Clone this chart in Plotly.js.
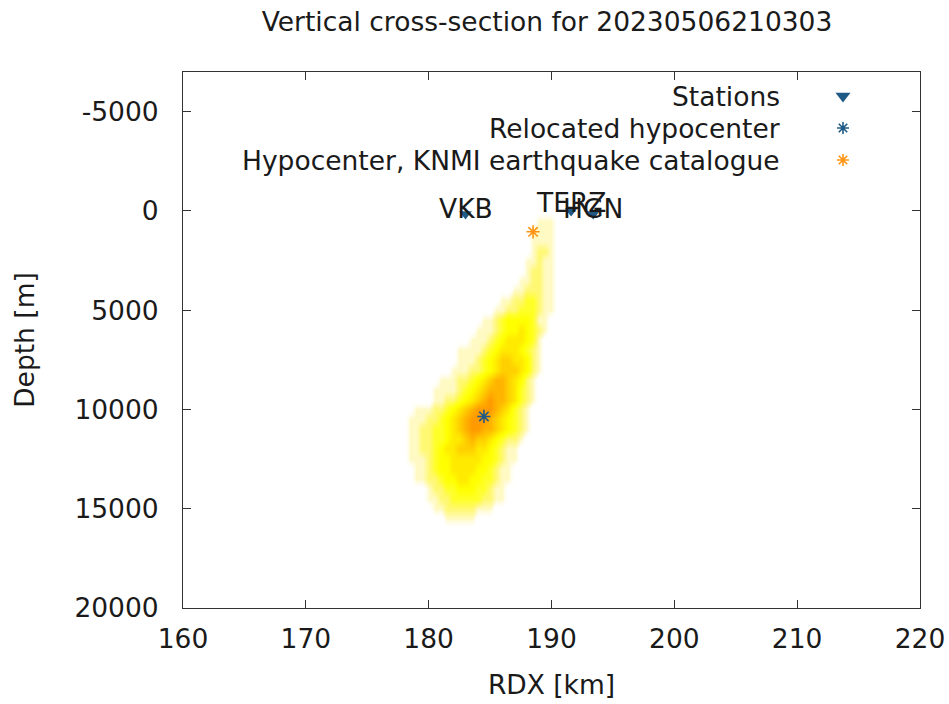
<!DOCTYPE html>
<html>
<head>
<meta charset="utf-8">
<script src="https://cdn.plot.ly/plotly-3.0.1.min.js"></script>
<style>html,body{margin:0;padding:0;background:#fff;}#chart{width:949px;height:704px;}</style>
</head>
<body>
<div id="chart"></div>
<script>
// ---- data ----
const titleText = 'Vertical cross-section for 20230506210303';
const xTitle = 'RDX [km]';
const yTitle = 'Depth [m]';
const xTickVals = [160, 170, 180, 190, 200, 210, 220];
const yTickVals = [-5000, 0, 5000, 10000, 15000, 20000];
const yTickText = ['-5000', '0', '5000', '10000', '15000', '20000'];

const stationNames = ['VKB', 'TERZ', 'HGN'];
const stationX = [183.0, 191.6, 193.4];
const stationDepth = [150, 0, 150];

const relocX = [184.5];
const relocDepth = [10350];

const knmiX = [188.5];
const knmiDepth = [1050];

const legendLabels = ['Stations', 'Relocated hypocenter', 'Hypocenter, KNMI earthquake catalogue'];

// probability density grid (columns = RDX km, rows = depth m), intensity 0-9
const gridX = [178, 178.5, 179, 179.5, 180, 180.5, 181, 181.5, 182, 182.5, 183, 183.5, 184, 184.5,
               185, 185.5, 186, 186.5, 187, 187.5, 188, 188.5, 189, 189.5, 190, 190.5, 191];
const gridDepth = [0, 500, 1000, 1500, 2000, 2500, 3000, 3500, 4000, 4500, 5000, 5500, 6000, 6500,
                   7000, 7500, 8000, 8500, 9000, 9500, 10000, 10500, 11000, 11500, 12000, 12500,
                   13000, 13500, 14000, 14500, 15000, 15500, 16000];
const pdfRows = [
  '0',
  '0000000000000000000000111',
  '0000000000000000000001111',
  '0000000000000000000001111',
  '0000000000000000000001221',
  '0000000000000000000011211',
  '0000000000000000000012211',
  '0000000000000000000112211',
  '0000000000000000001122211',
  '0000000000000000112233211',
  '0000000000000001122333211',
  '000000000000011234444311',
  '000000000000111234454321',
  '00000000000111234555431',
  '00000000011112345554321',
  '00000000011123456655421',
  '00000000111223456665421',
  '0000001112234567765421',
  '0000011112345677765321',
  '0000011223456787765321',
  '001112234567888765321',
  '011122345678887654321',
  '011223345678877654321',
  '01122334556766543221',
  '0112234556665543211',
  '0111234455555443211',
  '001123445555443211',
  '001122344554433211',
  '00001223344433211',
  '00001122333332211',
  '000001122222111',
  '000000011111',
  '0'
];

// ---- build ----
const z = pdfRows.map(r => r.padEnd(gridX.length, '0').split('').map(Number));

const FONT = 'DejaVu Sans, sans-serif';
const FS = 26.5;
const BLUE = '#1f5a86';
const ORANGE = '#ff9414';
const TXT = '#1a1a1a';

const traces = [
  {
    type: 'heatmap', x: gridX, y: gridDepth, z: z,
    zmin: 0, zmax: 9, zsmooth: 'best', showscale: false, hoverinfo: 'skip',
    colorscale: [
      [0, 'rgba(255,255,255,0)'],
      [0.111, '#fffac4'],
      [0.222, '#fff873'],
      [0.333, '#ffff28'],
      [0.444, '#ffff00'],
      [0.555, '#ffea00'],
      [0.666, '#ffd000'],
      [0.777, '#ffb400'],
      [0.888, '#ff9a00'],
      [1, '#ff6a00']
    ]
  },
  {
    type: 'scatter', mode: 'markers', x: stationX, y: stationDepth,
    marker: {symbol: 'triangle-down', size: 11, color: BLUE, opacity: 1}, showlegend: false
  },
  {
    type: 'scatter', mode: 'markers', x: knmiX, y: knmiDepth,
    marker: {symbol: 'asterisk-open', size: 11, color: ORANGE, opacity: 1, line: {color: ORANGE, width: 1.6}}, showlegend: false
  },
  {
    type: 'scatter', mode: 'markers', x: relocX, y: relocDepth,
    marker: {symbol: 'asterisk-open', size: 11, color: BLUE, opacity: 1, line: {color: BLUE, width: 1.6}}, showlegend: false
  },
  // custom gnuplot-style legend symbols (pixel coordinates on overlay axes)
  {
    type: 'scatter', mode: 'markers', xaxis: 'x2', yaxis: 'y2',
    x: [843, 843, 843], y: [96, 128, 160],
    marker: {
      symbol: ['triangle-down', 'asterisk-open', 'asterisk-open'],
      size: [13, 10, 10],
      opacity: 1,
      color: [BLUE, BLUE, ORANGE],
      line: {color: [BLUE, BLUE, ORANGE], width: [0, 1.6, 1.6]}
    },
    showlegend: false, hoverinfo: 'skip'
  }
];

const stationLabelShift = [5, 8, 5];
const annotations = stationNames.map((n, i) => ({
  x: stationX[i], y: stationDepth[i], xref: 'x', yref: 'y', text: n, showarrow: false,
  xanchor: 'center', yanchor: 'middle', yshift: stationLabelShift[i],
  font: {family: FONT, size: FS, color: TXT}
}));
const legendY = [96, 128, 160];
legendLabels.forEach((t, i) => annotations.push({
  x: 782, y: legendY[i], xref: 'x2', yref: 'y2', text: t, showarrow: false,
  xanchor: 'right', yanchor: 'middle', font: {family: FONT, size: FS, color: TXT}
}));

const axisCommon = {
  showgrid: false, zeroline: false, showline: true, mirror: 'ticks',
  linecolor: '#333', linewidth: 1, ticks: 'inside', ticklen: 8, tickcolor: '#333',
  tickfont: {family: FONT, size: FS, color: TXT}
};

const layout = {
  width: 949, height: 704,
  margin: {l: 183, r: 29, t: 72, b: 96},
  paper_bgcolor: '#fff', plot_bgcolor: '#fff',
  font: {family: FONT, size: FS, color: TXT},
  title: {text: titleText, font: {family: FONT, size: FS, color: TXT},
          xref: 'container', x: 547 / 949, xanchor: 'center', yref: 'container', y: 1 - 22 / 704, yanchor: 'middle'},
  xaxis: Object.assign({}, axisCommon, {
    range: [160, 220], tickvals: xTickVals, ticktext: xTickVals.map(String), ticklabelstandoff: 7,
    title: {text: xTitle, font: {family: FONT, size: FS, color: TXT}, standoff: 22}
  }),
  yaxis: Object.assign({}, axisCommon, {
    range: [20000, -7000], tickvals: yTickVals, ticktext: yTickText, ticklabelstandoff: 18,
    title: {text: yTitle, font: {family: FONT, size: FS, color: TXT}, standoff: 32}
  }),
  xaxis2: {overlaying: 'x', range: [183, 920], visible: false, fixedrange: true},
  yaxis2: {overlaying: 'y', range: [608, 72], visible: false, fixedrange: true},
  annotations: annotations,
  showlegend: false
};

Plotly.newPlot('chart', traces, layout, {displayModeBar: false, staticPlot: true});
</script>
</body>
</html>
